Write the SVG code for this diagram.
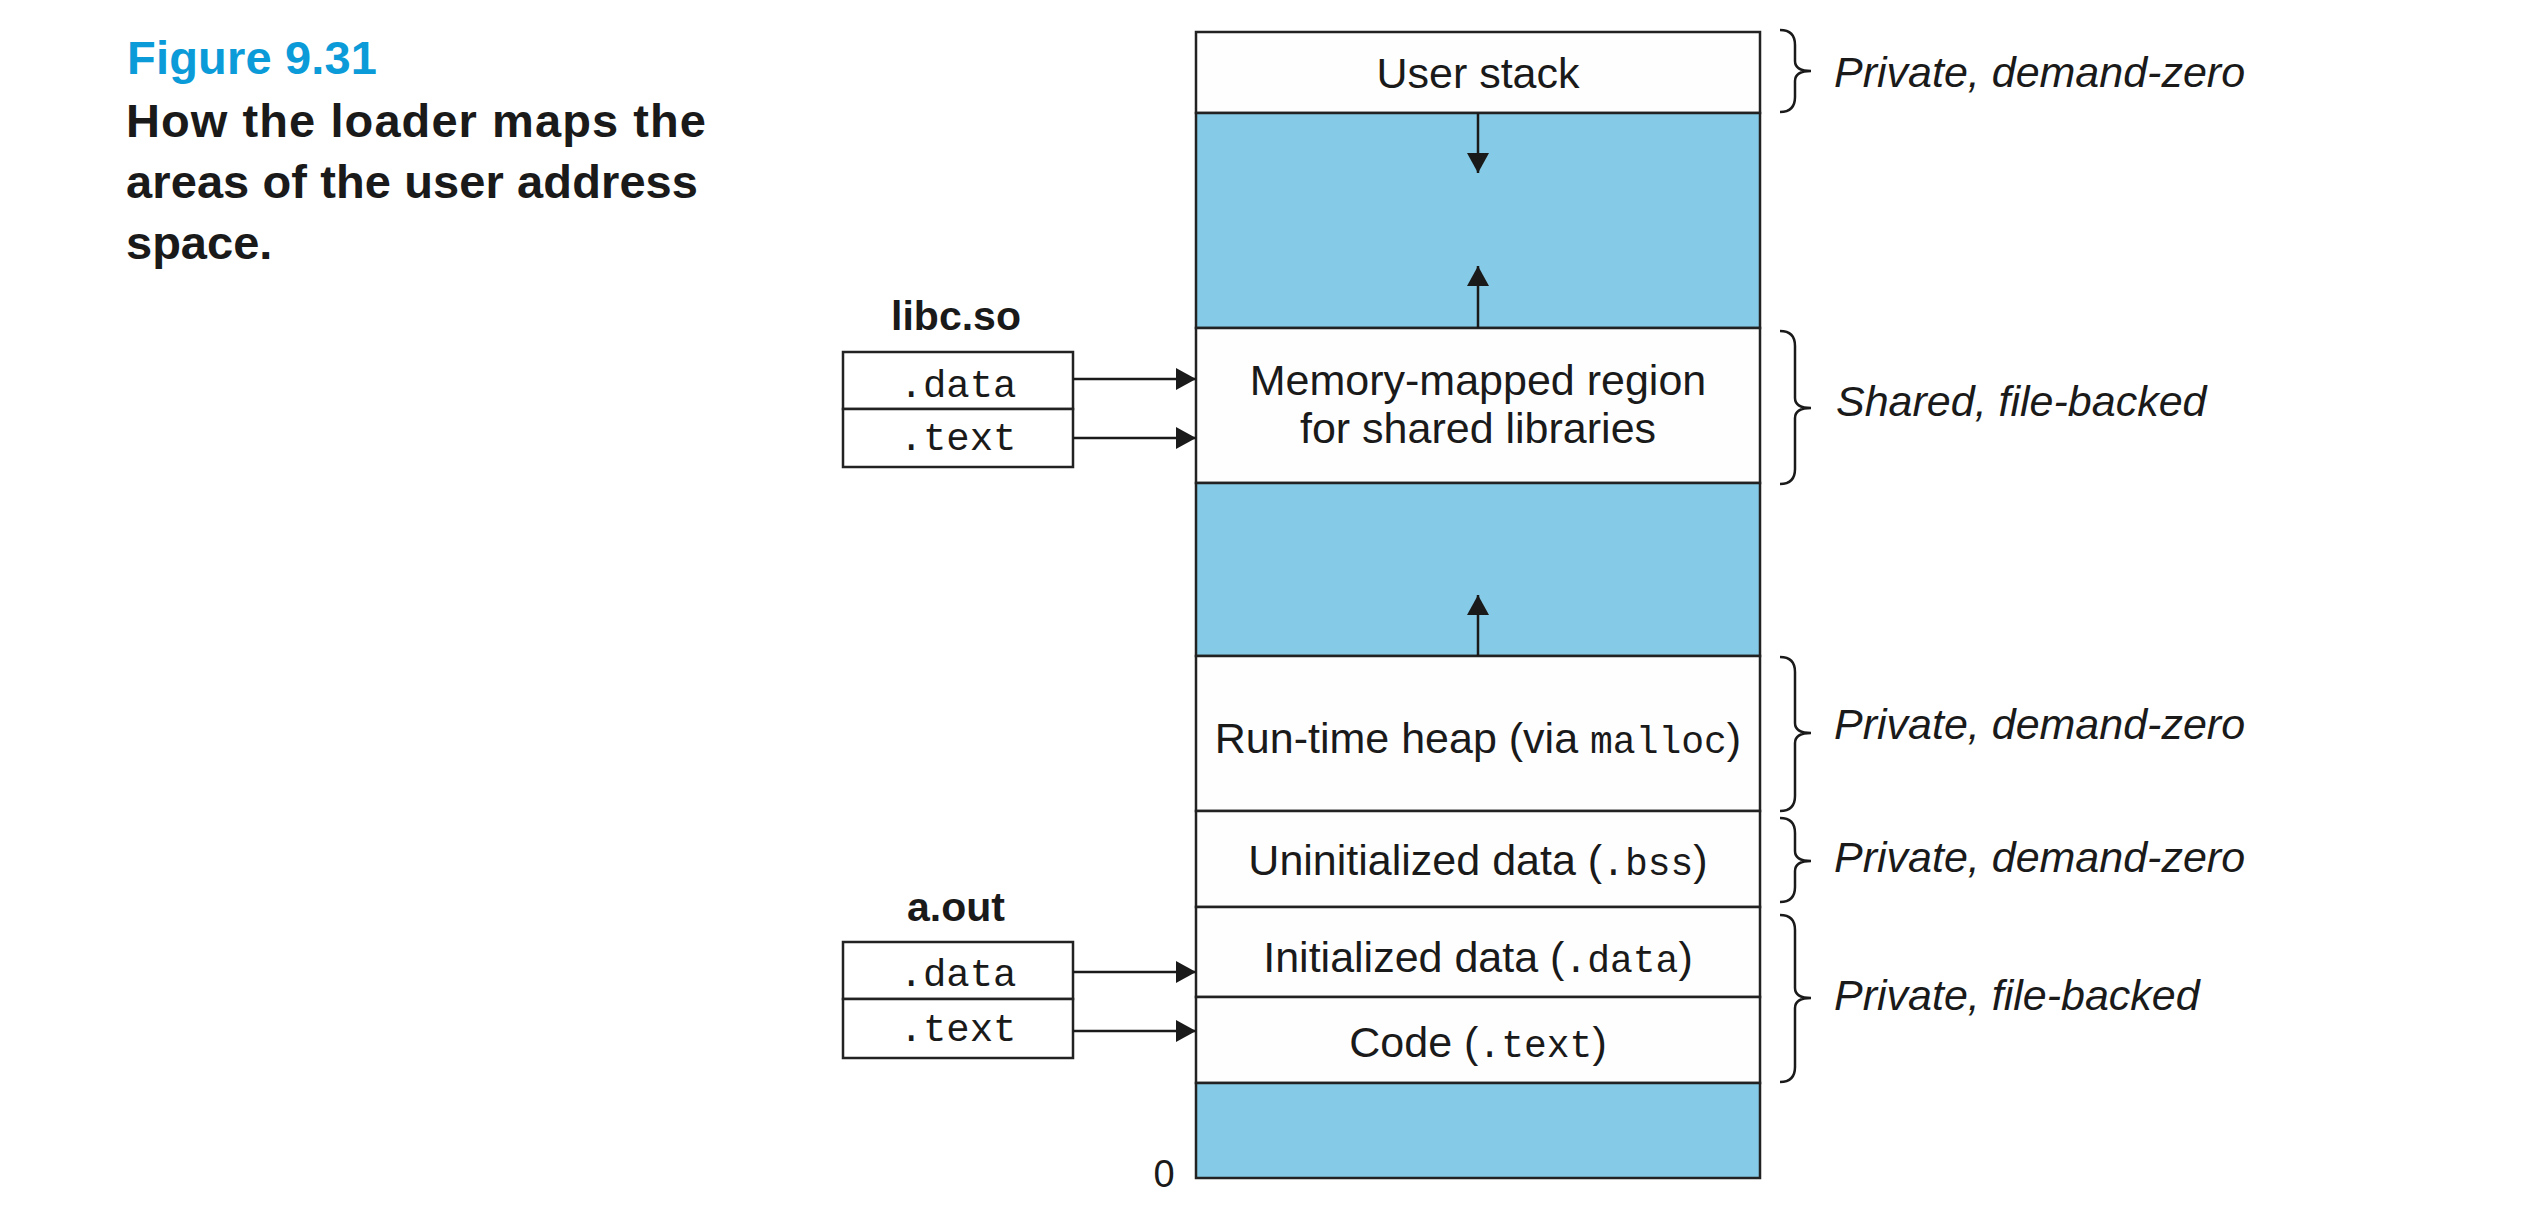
<svg xmlns="http://www.w3.org/2000/svg" width="2534" height="1226" viewBox="0 0 2534 1226">
<style>
.sans{font-family:"Liberation Sans",Arial,sans-serif;fill:#1a1a1a}
.mono{font-family:"Liberation Mono","Courier New",monospace;fill:#1a1a1a}
.region{font-size:43px;text-anchor:middle}
.note{font-family:"Liberation Sans",Arial,sans-serif;font-style:italic;font-size:43px;fill:#1a1a1a}
.seg{stroke:#222;stroke-width:2.5}
.white{fill:#fefefe}
.blue{fill:#85cae6}
.box{fill:#fff;stroke:#222;stroke-width:2.5}
.conn{stroke:#1a1a1a;stroke-width:2.5;fill:none}
.brace{stroke:#1a1a1a;stroke-width:2.5;fill:none}
.title{font-family:"Liberation Sans",Arial,sans-serif;font-weight:bold;font-size:47px;fill:#1a1a1a}
</style>
<defs>
<marker id="arr" markerUnits="userSpaceOnUse" markerWidth="20" markerHeight="22" refX="20" refY="11" orient="auto" viewBox="0 0 20 22">
<path d="M0,0 L20,11 L0,22 z" fill="#1a1a1a"/>
</marker>
</defs>
<rect width="2534" height="1226" fill="#fff"/>

<g id="caption">
<text x="127" y="74" font-family="'Liberation Sans',Arial,sans-serif" font-weight="bold" font-size="47" fill="#0a9bd8" textLength="250" lengthAdjust="spacing">Figure 9.31</text>
<text class="title" x="126" y="137" textLength="580" lengthAdjust="spacing">How the loader maps the</text>
<text class="title" x="126" y="198" textLength="572" lengthAdjust="spacing">areas of the user address</text>
<text class="title" x="126" y="259">space.</text>
</g>

<g id="user-stack">
<rect class="seg white" x="1196" y="32" width="564" height="81"/>
<text class="sans region" x="1478" y="88">User stack</text>
</g>
<g id="gap-1">
<rect class="seg blue" x="1196" y="113" width="564" height="215"/>
</g>
<g id="mmap-region">
<rect class="seg white" x="1196" y="328" width="564" height="155"/>
<text class="sans region" x="1478" y="395">Memory-mapped region</text>
<text class="sans region" x="1478" y="443">for shared libraries</text>
</g>
<g id="gap-2">
<rect class="seg blue" x="1196" y="483" width="564" height="173"/>
</g>
<g id="heap">
<rect class="seg white" x="1196" y="656" width="564" height="155"/>
<text class="sans region" x="1478" y="753">Run-time heap (via <tspan class="mono" font-size="38">malloc</tspan>)</text>
</g>
<g id="bss">
<rect class="seg white" x="1196" y="811" width="564" height="96"/>
<text class="sans region" x="1478" y="875">Uninitialized data (<tspan class="mono" font-size="38">.bss</tspan>)</text>
</g>
<g id="data">
<rect class="seg white" x="1196" y="907" width="564" height="90"/>
<text class="sans region" x="1478" y="972">Initialized data (<tspan class="mono" font-size="38">.data</tspan>)</text>
</g>
<g id="code">
<rect class="seg white" x="1196" y="997" width="564" height="86"/>
<text class="sans region" x="1478" y="1057">Code (<tspan class="mono" font-size="38">.text</tspan>)</text>
</g>
<g id="gap-3">
<rect class="seg blue" x="1196" y="1083" width="564" height="95"/>
</g>
<g id="zero-label">
<text class="sans" x="1164" y="1187" font-size="38" text-anchor="middle">0</text>
</g>

<g id="libc-so">
<text class="sans" x="956" y="330" font-size="41" font-weight="bold" text-anchor="middle">libc.so</text>
<rect class="box" x="843" y="352" width="230" height="57"/>
<rect class="box" x="843" y="409" width="230" height="58"/>
<text class="mono" x="958" y="397" font-size="39" text-anchor="middle">.data</text>
<text class="mono" x="958" y="450" font-size="39" text-anchor="middle">.text</text>
</g>

<g id="a-out">
<text class="sans" x="956" y="921" font-size="41" font-weight="bold" text-anchor="middle">a.out</text>
<rect class="box" x="843" y="942" width="230" height="57"/>
<rect class="box" x="843" y="999" width="230" height="59"/>
<text class="mono" x="958" y="986" font-size="39" text-anchor="middle">.data</text>
<text class="mono" x="958" y="1041" font-size="39" text-anchor="middle">.text</text>
</g>

<g id="annotations">
<path class="brace" d="M1780,30 Q1795,30 1795,45 L1795,61 Q1795,71 1811,71 Q1795,71 1795,81 L1795,97 Q1795,112 1780,112"/>
<text class="note" x="1834" y="87">Private, demand-zero</text>
<path class="brace" d="M1780,331 Q1795,331 1795,346 L1795,398 Q1795,408 1811,408 Q1795,408 1795,418 L1795,469 Q1795,484 1780,484"/>
<text class="note" x="1836" y="416">Shared, file-backed</text>
<path class="brace" d="M1780,657 Q1795,657 1795,672 L1795,723 Q1795,733 1811,733 Q1795,733 1795,743 L1795,796 Q1795,811 1780,811"/>
<text class="note" x="1834" y="739">Private, demand-zero</text>
<path class="brace" d="M1780,818 Q1795,818 1795,833 L1795,851 Q1795,861 1811,861 Q1795,861 1795,871 L1795,887 Q1795,902 1780,902"/>
<text class="note" x="1834" y="872">Private, demand-zero</text>
<path class="brace" d="M1780,915 Q1795,915 1795,930 L1795,988 Q1795,998 1811,998 Q1795,998 1795,1008 L1795,1067 Q1795,1082 1780,1082"/>
<text class="note" x="1834" y="1010">Private, file-backed</text>
</g>

<g id="connectors">
<line class="conn" x1="1073" y1="379" x2="1196" y2="379" marker-end="url(#arr)"/>
<line class="conn" x1="1073" y1="438" x2="1196" y2="438" marker-end="url(#arr)"/>
<line class="conn" x1="1073" y1="972" x2="1196" y2="972" marker-end="url(#arr)"/>
<line class="conn" x1="1073" y1="1031" x2="1196" y2="1031" marker-end="url(#arr)"/>
<line class="conn" x1="1478" y1="113" x2="1478" y2="173" marker-end="url(#arr)"/>
<line class="conn" x1="1478" y1="328" x2="1478" y2="266" marker-end="url(#arr)"/>
<line class="conn" x1="1478" y1="656" x2="1478" y2="595" marker-end="url(#arr)"/>
</g>
</svg>
